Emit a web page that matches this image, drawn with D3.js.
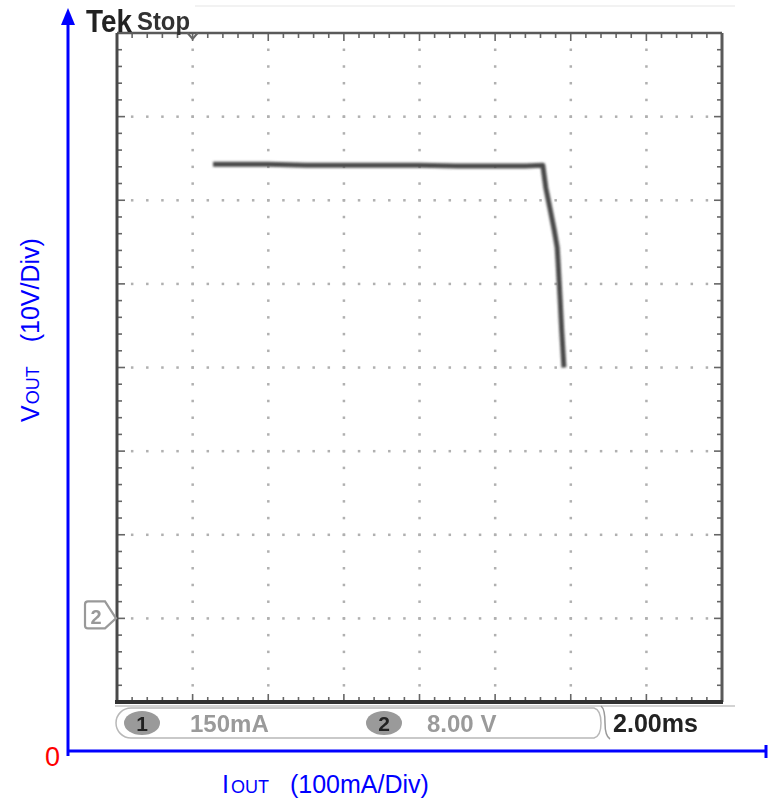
<!DOCTYPE html>
<html>
<head>
<meta charset="utf-8">
<script src="https://cdn.jsdelivr.net/npm/d3@7"></script>
<style>
  body { margin: 0; background: #fff; }
  svg { display: block; }
  .lbl { font-family: "Liberation Sans", Arial, sans-serif; fill: #0000ff; }
  .scr { font-family: "Liberation Sans", Arial, sans-serif; font-weight: bold; }
</style>
</head>
<body>
<div id="container"></div>
<script>
// Trace: output current (mA) and output voltage (V)
var ioutMA = [127, 160, 200, 250, 300, 350, 400, 450, 500, 540, 563, 567, 573, 578, 582, 583, 586, 588, 589, 591];
var voutV  = [64.3, 64.3, 64.3, 64.2, 64.2, 64.2, 64.2, 64.1, 64.1, 64.1, 64.2, 61.5, 58.8, 56.5, 54.4, 53.0, 48.1, 44.5, 43.0, 40.0];

// Scope grid: 8 x 8 divisions, 100 mA/div and 10 V/div
var xDivs = d3.range(0, 801, 100);
var yDivs = d3.range(0, 81, 10);
var xMinor = d3.range(0, 801, 20);
var yMinor = d3.range(0, 81, 2);

// Texts on the screen and on the axes
var readouts = [{ch: "1", text: "150mA", cx: 142, tx: 190}, {ch: "2", text: "8.00 V", cx: 384, tx: 427}];
var timebase = "2.00ms";

var width = 768;
var height = 799;
var grid = {left: 117, right: 722, top: 33, bottom: 702};

var svg = d3.select("#container")
            .append("svg")
            .attr("width", width)
            .attr("height", height);

var defs = svg.append("defs");
defs.append("filter").attr("id", "soft")
    .append("feGaussianBlur").attr("stdDeviation", 0.6);
defs.append("filter").attr("id", "trace")
    .append("feGaussianBlur").attr("stdDeviation", 0.9);

var xScale = d3.scaleLinear().domain([0, 800]).range([grid.left, grid.right]);
var yScale = d3.scaleLinear().domain([0, 80]).range([grid.bottom, grid.top]);

var scope = svg.append("g").attr("filter", "url(#soft)");

// faint line above the screen
scope.append("line")
     .attr("x1", 195).attr("x2", 735).attr("y1", 6).attr("y2", 6)
     .attr("stroke", "#eee").attr("stroke-width", 1.5);

// Dotted graticule: dots every minor step along interior major lines
var inner = function(a) { return a.slice(1, a.length - 1); };
inner(xDivs).forEach(function(v) {
  scope.append("g").selectAll("rect")
       .data(inner(yMinor))
       .enter().append("rect")
       .attr("x", xScale(v) - 1.2).attr("y", (d) => yScale(d) - 1.2)
       .attr("width", 2.5).attr("height", 2.5)
       .attr("fill", "#b0b0b0");
});
inner(yDivs).forEach(function(v) {
  scope.append("g").selectAll("rect")
       .data(inner(xMinor))
       .enter().append("rect")
       .attr("x", (d) => xScale(d) - 1.2).attr("y", yScale(v) - 1.2)
       .attr("width", 2.5).attr("height", 2.5)
       .attr("fill", "#b0b0b0");
});

// ticks on the frame edges
var isMajorX = (d) => d % 100 === 0;
var isMajorY = (d) => d % 10 === 0;
scope.append("g").selectAll("line")
     .data(inner(yMinor)).enter().append("line")
     .attr("x1", grid.left).attr("x2", (d) => grid.left + (isMajorY(d) ? 8 : 5))
     .attr("y1", (d) => yScale(d)).attr("y2", (d) => yScale(d))
     .attr("stroke", "#666").attr("stroke-width", 1.6);
scope.append("g").selectAll("line")
     .data(inner(yMinor)).enter().append("line")
     .attr("x1", grid.right).attr("x2", (d) => grid.right - (isMajorY(d) ? 8 : 5))
     .attr("y1", (d) => yScale(d)).attr("y2", (d) => yScale(d))
     .attr("stroke", "#666").attr("stroke-width", 1.6);
scope.append("g").selectAll("line")
     .data(inner(xMinor)).enter().append("line")
     .attr("x1", (d) => xScale(d)).attr("x2", (d) => xScale(d))
     .attr("y1", grid.top).attr("y2", (d) => grid.top + (isMajorX(d) ? 8 : 5))
     .attr("stroke", "#666").attr("stroke-width", 1.6);
scope.append("g").selectAll("line")
     .data(inner(xMinor)).enter().append("line")
     .attr("x1", (d) => xScale(d)).attr("x2", (d) => xScale(d))
     .attr("y1", grid.bottom).attr("y2", (d) => grid.bottom - (isMajorX(d) ? 8 : 5))
     .attr("stroke", "#666").attr("stroke-width", 1.6);

// frame
scope.append("line")
     .attr("x1", grid.left).attr("x2", grid.right).attr("y1", grid.top).attr("y2", grid.top)
     .attr("stroke", "#5a5a5a").attr("stroke-width", 2.5);
scope.append("line")
     .attr("x1", grid.left).attr("x2", grid.left).attr("y1", grid.top).attr("y2", grid.bottom)
     .attr("stroke", "#4a4a4a").attr("stroke-width", 3);
scope.append("line")
     .attr("x1", grid.right).attr("x2", grid.right).attr("y1", grid.top).attr("y2", grid.bottom)
     .attr("stroke", "#5a5a5a").attr("stroke-width", 3);
scope.append("line")
     .attr("x1", 115).attr("x2", grid.right + 1).attr("y1", grid.bottom).attr("y2", grid.bottom)
     .attr("stroke", "#333").attr("stroke-width", 4);
scope.append("line")
     .attr("x1", 115).attr("x2", 735).attr("y1", 706).attr("y2", 706)
     .attr("stroke", "#c4c4c4").attr("stroke-width", 1.5);

// trigger position marker on top edge
scope.append("path")
     .attr("d", "M" + (xScale(100) - 5) + "," + (grid.top) + " L" + xScale(100) + "," + (grid.top + 6) + " L" + (xScale(100) + 5) + "," + grid.top)
     .attr("fill", "none").attr("stroke", "#666").attr("stroke-width", 2);

// channel 2 ground marker
var gy = yScale(10);
scope.append("path")
     .attr("d", "M88," + (gy - 17) + " H105 L" + (grid.left - 1) + "," + gy + " L105," + (gy + 10) + " H88 Q85," + (gy + 10) + " 85," + (gy + 7) + " V" + (gy - 14) + " Q85," + (gy - 17) + " 88," + (gy - 17) + " Z")
     .attr("fill", "#fff").attr("stroke", "#999").attr("stroke-width", 2.2);
scope.append("text")
     .attr("class", "scr")
     .attr("x", 96).attr("y", gy + 6)
     .attr("text-anchor", "middle")
     .attr("font-size", 20)
     .attr("fill", "#999")
     .text("2");

// the measured trace
var line = d3.line()
             .x((d, i) => xScale(ioutMA[i]))
             .y((d, i) => yScale(voutV[i]));
svg.append("path")
   .attr("d", line(ioutMA))
   .attr("filter", "url(#trace)")
   .attr("fill", "none")
   .attr("stroke", "#484848")
   .attr("stroke-width", 5)
   .attr("stroke-linejoin", "round");

// header
scope.append("text")
     .attr("class", "scr")
     .attr("x", 86).attr("y", 32)
     .attr("font-size", 31)
     .attr("textLength", 46).attr("lengthAdjust", "spacingAndGlyphs")
     .attr("fill", "#222")
     .text("Tek");
scope.append("text")
     .attr("x", 137).attr("y", 30)
     .attr("font-family", "'Liberation Sans', Arial, sans-serif")
     .attr("font-size", 25)
     .attr("font-weight", 600)
     .attr("textLength", 53).attr("lengthAdjust", "spacingAndGlyphs")
     .attr("fill", "#333")
     .text("Stop");

// status bar
scope.append("path")
     .attr("d", "M131,708 H594 Q601,710 601,723 Q601,736 594,738 H131 A15,15 0 0 1 131,708 Z")
     .attr("fill", "#fff").attr("stroke", "#b8b8b8").attr("stroke-width", 1.5);
scope.append("path")
     .attr("d", "M601,706 Q605,709 605,723 Q605,736 610,739")
     .attr("fill", "none").attr("stroke", "#999").attr("stroke-width", 1.5);

readouts.forEach(function(r) {
  scope.append("ellipse")
       .attr("cx", r.cx).attr("cy", 723).attr("rx", 18).attr("ry", 12)
       .attr("fill", "#9a9a9a");
  scope.append("text")
       .attr("class", "scr")
       .attr("x", r.cx).attr("y", 731)
       .attr("text-anchor", "middle")
       .attr("font-size", 21)
       .attr("fill", "#222")
       .text(r.ch);
  scope.append("text")
       .attr("class", "scr")
       .attr("x", r.tx).attr("y", 732)
       .attr("font-size", 24)
       .attr("fill", "#9a9a9a")
       .text(r.text);
});
scope.append("text")
     .attr("class", "scr")
     .attr("x", 613).attr("y", 732)
     .attr("font-size", 25)
     .attr("textLength", 85).attr("lengthAdjust", "spacingAndGlyphs")
     .attr("fill", "#222")
     .text(timebase);

// Blue axes drawn over the screenshot
svg.append("line")
   .attr("x1", 68).attr("x2", 68).attr("y1", 20).attr("y2", 756)
   .attr("stroke", "#0000ff").attr("stroke-width", 3);
svg.append("path")
   .attr("d", "M61,25 L68,8 L75,25 Z")
   .attr("fill", "#0000ff");
svg.append("line")
   .attr("x1", 67).attr("x2", 766).attr("y1", 751).attr("y2", 751)
   .attr("stroke", "#0000ff").attr("stroke-width", 3);
svg.append("line")
   .attr("x1", 766).attr("x2", 766).attr("y1", 745).attr("y2", 758)
   .attr("stroke", "#0000ff").attr("stroke-width", 3);

svg.append("text")
   .attr("x", 45).attr("y", 766)
   .attr("font-family", "'Liberation Sans', Arial, sans-serif")
   .attr("font-size", 27)
   .attr("fill", "#ff0000")
   .text("0");

var xLabel = svg.append("text")
                .attr("class", "lbl")
                .attr("x", 222).attr("y", 793)
                .attr("font-size", 25);
xLabel.append("tspan").text("I");
xLabel.append("tspan").attr("font-size", 18).attr("dx", 2).text("OUT");
xLabel.append("tspan").attr("dx", 21).text("(100mA/Div)");

var yLabel = svg.append("text")
                .attr("class", "lbl")
                .attr("transform", "translate(39,422) rotate(-90)")
                .attr("font-size", 25);
yLabel.append("tspan").text("V");
yLabel.append("tspan").attr("font-size", 18).attr("dx", 1).text("OUT");
yLabel.append("tspan").attr("dx", 24).text("(10V/Div)");
</script>
</body>
</html>
